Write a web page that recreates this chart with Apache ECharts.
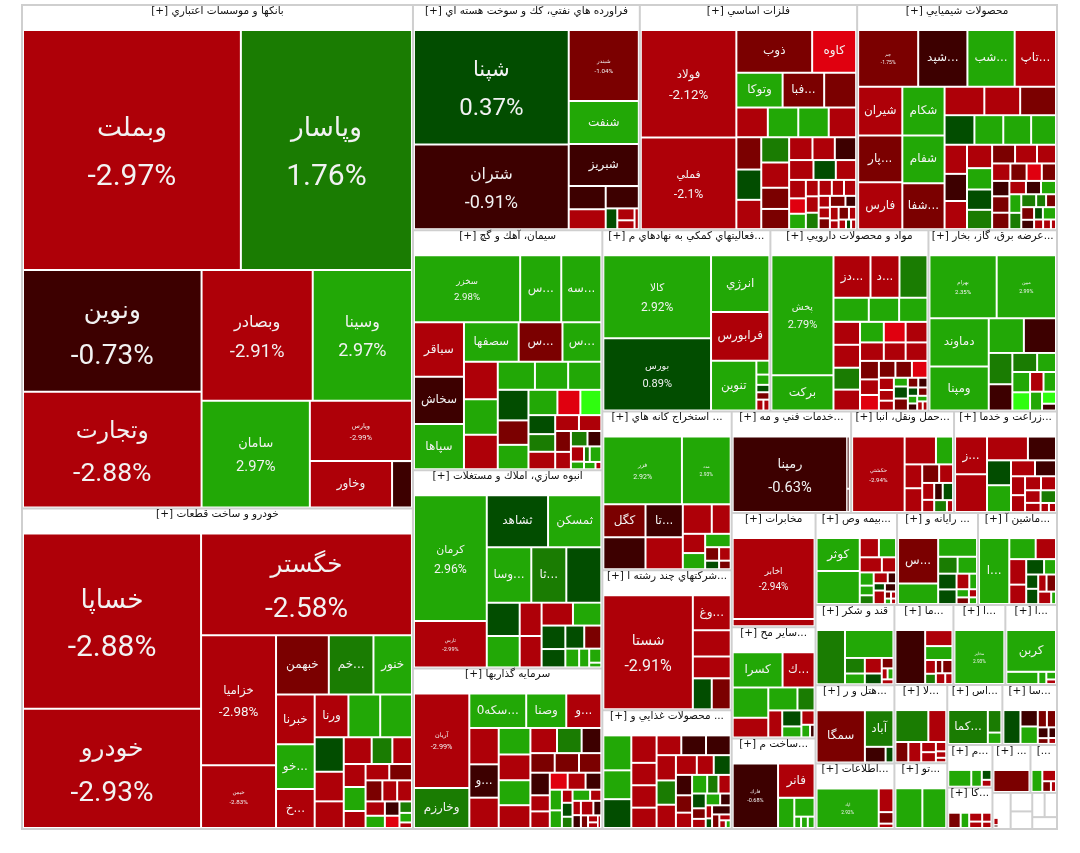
<![CDATA[<!DOCTYPE html>
<html><head><meta charset="utf-8">
<style>html,body{margin:0;padding:0;background:#fff}#c{width:1080px;height:853px}</style>
<script src="https://cdn.jsdelivr.net/npm/echarts@6/dist/echarts.min.js"></script></head>
<body><div id="c"></div>
<script>
// each cell: [symbol, change %, market value]; listed in treemap order
const banks=[["وبملت",-2.97,51863],["وپاسار",1.76,40630],["ونوين",-0.73,21360],["وتجارت",-2.88,20292],["وبصادر",-2.91,14190],["وسينا",2.97,12642],["سامان",2.97,11232],["وپارس",-2.99,5900],["وخاور",-2.6,3600],["",-0.6,810]];
const autos=[["خساپا",-2.88,30972],["خودرو",-2.93,21004],["خگستر",-2.58,21200],["خزاميا",-2.98,9500],["خيمن",-2.83,4500],["خبهمن",-1.6,2950],["خم...",1.5,2478],["خنور",2.6,2124],["خبرنا",-2.5,1776],["خو...",2.4,1591],["خ...",-2.7,1369],["ورنا",-2.6,1312],["",2.6,1230],["",2.5,1230],["",0.4,891],["",-2.4,756],["",-2.8,675],["",-2.5,650],["",1.5,468],["",-2.6,442],["",-2.3,420],["",2.7,440],["",-2.4,300],["",-2.9,315],["",-1.4,300],["",-1.6,285],["",-2.6,247],["",-2.7,247],["",-2.5,216],["",2.6,180],["",-0.5,156],["",-3.3,130],["",1.3,100],["",2.4,80],["",-2.2,40]];
const oil=[["شپنا",0.37,17176],["شتران",-0.91,12616],["شبندر",-1.04,4692],["شنفت",2.5,2788],["شبريز",-0.8,2720],["",-0.7,735],["",-2.6,630],["",-0.6,630],["",0.5,180],["",-2.4,150],["",-2.7,105],["",-2.2,54]];
const metals=[["فولاد",-2.12,9858],["فملي",-2.1,8370],["ذوب",-1.5,3000],["كاوه",-3.2,1700],["وتوكا",2.4,1450],["فبا...",-1.7,1295],["",-1.6,980],["",-2.6,812],["",2.6,784],["",2.2,784],["",-2.4,700],["",-1.4,690],["",0.5,644],["",-2.5,621],["",1.5,598],["",-2.7,598],["",-1.8,494],["",-1.5,468],["",-2.2,441],["",-2.6,420],["",-0.6,399],["",-2.4,396],["",0.4,360],["",-2.7,324],["",-2.5,240],["",-3.4,195],["",2.5,195],["",-2.3,154],["",-2.8,154],["",1.4,154],["",-2.6,154],["",-2.4,140],["",-2.2,140],["",-2.7,88],["",-2.5,80],["",-1.8,80],["",-1.5,121],["",-0.6,77],["",-2.6,77],["",-2.5,44],["",-1.7,88],["",-2.3,56],["",-2.1,40],["",0.5,24],["",-2.4,24]];
const chemicals=[["جم",-1.75,3245],["شپد...",-0.6,2640],["شب...",2.5,2530],["تاپ...",-2.6,2200],["شيران",-2.5,2021],["پار...",-1.6,1935],["فارس",-2.7,1935],["شكام",2.6,1927],["شفام",2.4,1886],["شفا...",-1.4,1804],["",-2.6,1026],["",-2.4,918],["",-1.7,918],["",0.5,784],["",2.6,756],["",2.4,728],["",2.5,644],["",-2.6,567],["",-0.7,525],["",-2.5,546],["",-2.7,504],["",2.7,456],["",0.4,432],["",1.5,408],["",-1.8,357],["",-2.3,340],["",-2.6,289],["",-2.8,256],["",-1.5,224],["",-3.3,208],["",-1.7,192],["",-0.6,208],["",-1.6,224],["",-1.9,224],["",-2.6,168],["",-0.8,150],["",2.8,150],["",2.3,168],["",1.3,144],["",1.6,143],["",1.4,88],["",-1.9,88],["",-1.5,117],["",-0.5,81],["",0.6,72],["",2.4,117],["",-2.2,54],["",-2.7,45],["",-2.9,25]];
const cement=[["سخزر",2.98,6760],["س...",2.7,2535],["سه...",2.6,2470],["سباقر",-2.7,2496],["سخاش",-0.7,2160],["سپاها",2.5,2064],["سصفها",2.4,1961],["س... ",-1.6,1554],["س...  ",2.8,1369],["",-2.6,1120],["",2.5,1056],["",-2.4,1024],["",2.6,910],["",2.4,806],["",2.7,806],["",0.5,812],["",-1.5,638],["",2.3,638],["",2.5,621],["",-3.3,483],["",3.5,437],["",0.4,416],["",1.6,384],["",-2.8,380],["",-2.6,300],["",-2.3,280],["",-1.7,256],["",-2.5,208],["",1.4,192],["",-0.6,156],["",-2.7,144],["",2.2,63],["",1.3,54],["",2.6,128],["",2.4,50],["",-2.1,20]];
const massBuilders=[["كرمان",2.96,8733],["ثارس",-2.99,3124],["ثشاهد",0.6,2950],["ثمسكن",2.5,2550],["وسا...",2.4,2250],["ثا...",1.4,1750],["",0.5,1750],["",0.4,961],["",2.6,900],["",-2.5,620],["",-2.6,580],["",-2.7,609],["",2.3,546],["",0.7,462],["",0.5,352],["",0.3,352],["",-1.5,315],["",2.7,195],["",2.6,135],["",2.4,120],["",2.5,30]];
const investment=[["آريان",-2.99,5022],["وخارزم",1.6,2052],["سكه0...",2.5,1815],["وصنا",2.6,1254],["و...",-2.4,1089],["",-2.6,952],["و... ",-0.7,868],["",-2.7,784],["",2.4,736],["",-2.5,713],["",2.7,690],["",-2.8,625],["",-2.3,575],["",1.5,529],["",-0.6,414],["",-1.5,396],["",-1.8,396],["",-1.6,361],["",-0.5,361],["",-2.4,247],["",-2.6,256],["",-3.4,240],["",-2.7,240],["",-0.7,208],["",2.3,192],["",2.6,160],["",-2.2,96],["",0.4,104],["",1.3,80],["",2.5,144],["",-2.6,84],["",-2.3,80],["",-0.8,70],["",-2.9,132],["",-0.6,77],["",-1.7,56],["",-2.8,40],["",-2.1,30],["",-2.4,20]];
const finance=[["كالا",2.92,8586],["بورس",0.89,7420],["انرژي",2.5,3080],["فرابورس",-2.6,2632],["تنوين",2.4,2070],["",2.6,130],["",2.3,90],["",0.5,60],["",-1.6,60],["",-2.4,45],["",-2.7,36]];
const pharma=[["پخش",2.79,7020],["بركت",2.5,1980],["دز...",-2.6,1400],["د...",-2.4,1080],["",1.5,1040],["",2.6,726],["",2.4,616],["",2.7,572],["",-2.5,504],["",-2.8,504],["",1.4,480],["",-2.3,456],["",2.5,396],["",-3.3,360],["",-2.6,360],["",-2.7,352],["",-2.4,320],["",-2.9,320],["",-1.6,272],["",-2.5,224],["",-3.2,224],["",-1.5,210],["",-1.7,210],["",-3.4,196],["",-2.6,130],["",-2.8,110],["",-2.2,100],["",2.3,80],["",0.5,117],["",-1.8,117],["",-1.4,63],["",-0.6,54],["",0.4,50],["",-1.5,45],["",2.6,40],["",-0.7,36],["",2.5,30],["",-2.4,25],["",-2.7,20]];
const power=[["بهرام",2.35,4026],["مبين",2.99,3538],["دماوند",2.5,2668],["ومپنا",2.6,2436],["",2.4,1089],["",-0.6,990],["",1.5,638],["",-0.7,528],["",1.4,391],["",2.7,289],["",2.3,288],["",3.4,256],["",-2.6,204],["",2.6,187],["",2.5,170],["",3.3,120],["",-0.5,60]];
const mining=[["فزر",2.92,5159],["مدد",2.93,3149],["كگل",-1.6,1271],["",-0.7,1230],["تا...",-0.6,1116],["",-2.6,1080],["",-2.4,756],["",-2.7,476],["",-2.5,357],["",2.6,294],["",2.4,276],["",-1.5,140],["",0.5,80],["",-2.8,112],["",-1.7,64]];
const multiIndustry=[["شستا",-2.91,9856],["وغ...",-2.6,1188],["",-2.4,864],["",-2.7,720],["",0.5,493],["",-1.6,493]];
const food=[["",2.6,832],["",2.4,676],["",0.5,676],["",-2.6,575],["",-2.4,460],["",-2.7,460],["",-2.5,414],["",-2.8,391],["",-0.6,391],["",-0.7,391],["",-2.3,391],["",1.5,374],["",-2.6,357],["",-2.4,324],["",-2.7,256],["",0.4,256],["",-0.5,252],["",-1.6,210],["",-2.6,182],["",2.5,210],["",1.4,150],["",-2.8,165],["",0.5,143],["",-1.5,96],["",-2.4,80],["",2.7,117],["",-0.7,80],["",-2.3,48],["",0.3,32],["",-0.6,117],["",-1.7,60],["",-2.5,36],["",-2.2,24],["",2.2,16]];
const techServices=[["رمپنا",-0.63,8475],["",-0.8,110],["",-0.5,40]];
const transport=[["حكشتي",-2.94,3848],["",-2.6,783],["",2.5,405],["",-2.4,352],["",-2.7,352],["",-1.6,255],["",-2.5,204],["",-2.8,154],["",-2.3,105],["",-0.7,105],["",0.5,132],["",1.4,110],["",-2.6,44]];
const farming=[["ز...",-2.7,1080],["",-2.5,1080],["",-2.6,858],["",-0.6,572],["",0.4,506],["",2.5,550],["",-2.4,308],["",-0.7,266],["",-2.8,204],["",-2.6,180],["",-2.3,168],["",-2.5,156],["",-2.7,144],["",-2.4,99],["",1.5,144],["",-2.9,45],["",-2.2,36]];
const telecom=[["اخابر",-2.94,6160],["",-2.6,480]];
const otherMining=[["كسرا",2.5,1584],["ك...",-2.6,990],["",2.4,945],["",-2.7,595],["",2.6,567],["",1.5,315],["",-2.5,299],["",0.5,238],["",2.3,154],["",-2.4,136],["",2.7,70],["",-0.6,30]];
const construction=[["فارك",-0.68,2728],["فانر",-2.6,1122],["",2.5,405],["",2.4,306],["",2.6,45],["",2.3,45],["",2.7,45]];
const insurance=[["كوثر",2.6,1260],["",2.4,1260],["",-2.6,289],["",2.5,255],["",-2.4,260],["",-2.7,156],["",2.3,130],["",2.7,90],["",1.4,80],["",-2.5,104],["",-0.7,54],["",0.5,48],["",-2.8,104],["",-0.6,56],["",-1.6,20],["",-2.2,15],["",2.6,14],["",-2.4,10]];
const computers=[["س...",-1.5,1638],["",2.4,702],["",2.6,612],["",1.5,255],["",2.5,255],["",0.5,221],["",0.4,204],["",-2.6,143],["",2.3,78],["",2.7,63],["",-1.7,49],["",-2.4,36],["",2.2,28]];
const machinery=[["ا...",2.5,1798],["",2.4,456],["",-2.4,342],["",-2.6,345],["",-2.7,255],["",0.5,208],["",2.6,130],["",0.6,120],["",0.4,130],["",-2.3,96],["",-1.6,112],["",-2.5,112],["",2.2,32]];
const sugar=[["",1.5,1377],["",2.6,1196],["",1.4,240],["",2.4,156],["",-2.6,200],["",0.5,130],["",-1.6,80],["",-2.5,35],["",2.3,35],["",-2.4,30]];
const hotels=[["سمگا",-1.6,2115],["آباد",1.5,832],["",-0.6,228],["",0.5,72]];
const ict=[["اياد",2.92,2440],["",-2.6,299],["",-1.6,130],["",-2.4,39]];
const crafts=[["",-0.6,1428],["",-2.6,350],["",2.5,300],["",-2.4,100],["",1.4,70],["",-1.5,50],["",-1.6,90],["",-2.7,63],["",-2.5,45]];
const tile=[["مخابر",2.93,2448]];
const carbon=[["كربن",2.6,1872],["",2.4,310],["",2.5,60],["",2.7,42],["",-2.6,21]];
const textiles=[["",1.5,870],["",-2.6,450],["",-1.6,187],["",-2.4,187],["",-2.7,96],["",-2.5,96],["",-2.3,56],["",-2.8,35],["",-2.2,21]];
const distribution=[["",2.6,1000],["",2.4,880]];
const glass=[["كما...",1.6,1209],["",1.4,240],["",2.5,108]];
const rubber=[["",0.5,465],["",-0.6,210],["",2.6,225],["",-1.5,105],["",-1.7,105],["",-0.7,72],["",-1.6,32],["",-0.5,45],["",-2.4,20]];
const metalProducts=[["",2.5,330],["",2.6,135],["",0.5,64],["",-2.6,40]];
const leasing=[["",-1.6,132],["",2.4,84],["",-2.7,72],["",-2.5,48],["",-2.6,48],["",-2.4,30]];
const wood=[["",-1.5,640]];
const paper=[["",2.5,200],["",-2.6,121],["",-1.6,64],["",-2.4,32]];
const tail=[["",-2.6,70],["",-0.6,21],["",null,260]];

// sector titles and sector totals
const sectorTitles=["[+] بانكها و موسسات اعتباري","[+] خودرو و ساخت قطعات","[+] فراورده هاي نفتي، كك و سوخت هسته اي","[+] فلزات اساسي","[+] محصولات شيميايي","[+] سيمان، آهك و گچ","[+] انبوه سازي، املاك و مستغلات","[+] سرمايه گذاريها","[+] فعاليتهاي كمكي به نهادهاي م...","[+] مواد و محصولات دارويي","[+] عرضه برق، گاز، بخار...","[+] استخراج كانه هاي ...","[+] شركتهاي چند رشته ا...","[+] محصولات غذايي و ...","[+] خدمات فني و مه...","[+] حمل ونقل، انبا...","[+] زراعت و خدما...","[+] مخابرات","[+] ساير مح...","[+] ساخت م...","[+] بيمه وص...","[+] رايانه و ...","[+] ماشين آ...","[+] قند و شكر","[+] هتل و ر...","[+] اطلاعات...","[+] ما...","[+] ا...","[+] ا...","[+] لا...","[+] تو...","[+] اس...","[+] سا...","[+] م...","[+] كا...","[+] ...","[..."];
const sectorCells=[banks,autos,oil,metals,chemicals,cement,massBuilders,investment,finance,pharma,power,mining,multiIndustry,food,techServices,transport,farming,telecom,otherMining,construction,insurance,computers,machinery,sugar,hotels,ict,crafts,tile,carbon,textiles,distribution,glass,rubber,metalProducts,leasing,wood,paper];
const sectorTotals=[196868,125316,51076,48929,45000,45480,37521,30415,30492,28677,23323,20526,18130,15346,12129,10454,10454,9576,9324,7602,7498,7452,7268,6320,6162,5175,4720,4150,4130,4134,3471,3300,3270,1935,1867,1824,1272];
const blankTotals=[657,400,380,300,300,294];

// label sizes per symbol (percent size); symbols not listed show the name alone
const labelSizes={"وبملت":30,"وپاسار":30,"ونوين":28,"وتجارت":26.5,"خساپا":30,"خودرو":28,"خگستر":28,"شپنا":24,"وبصادر":18.5,"وسينا":18,"شتران":18,"شستا":16,"سامان":14.7,"رمپنا":14.7,"فولاد":13.3,"خزاميا":13.4,"فملي":12.3,"كالا":12,"كرمان":12.3,"بورس":11,"پخش":11,"اخابر":10,"سخزر":9.7,"وپارس":7.5,"آريان":7.3,"فزر":7,"خيمن":6.2,"شبندر":6.2,"حكشتي":6.2,"بهرام":6,"ثارس":5.5,"فارك":5.5,"مبين":5.3,"جم":5,"مدد":5,"مخابر":4.8,"اياد":4.8};
const nameOnlySize=12;
const bins=[[3,"#2ffd0f"],[2,"#22a806"],[1,"#1a7c02"],[0,"#024d00"],[-1,"#3d0000"],[-2,"#7b0000"],[-3,"#ae0008"]];
function colorOf(p){if(p===null)return "#fff";for(const b of bins){if(p>=b[0])return b[1];}return "#e0000f";}
// values above were read as visible tile areas; the white gap around each tile belongs to it
function withGap(v){return v+4.2*Math.sqrt(v)+4;}
function leaf(c,tileH){
  const size=labelSizes[c[0]];
  const lh=size*1.6;
  const lab=size?{formatter:"{n|"+c[0]+"}\n{p|"+c[1]+"%}",padding:[Math.max(0,((tileH[c[0]]||0)-2*lh)/2+size*0.12),0,0,0],
      rich:{n:{fontSize:size*0.88,lineHeight:lh,color:"#f2f2f2",fontFamily:'"DejaVu Sans"'},p:{fontSize:size,lineHeight:lh,color:"#f2f2f2",fontFamily:'Roboto'}}}
    :{formatter:c[0].trim(),fontSize:nameOnlySize};
  return {name:c[0]||" ",value:withGap(c[2]),itemStyle:{color:colorOf(c[1])},
    label:Object.assign({show:c[0]!=="",overflow:"none"},lab)};
}
function buildData(tileH){
  const data=sectorTitles.map((t,i)=>({name:t,value:sectorTotals[i],children:sectorCells[i].map(c=>leaf(c,tileH))}));
  blankTotals.forEach((v,i)=>data.push({name:" ",value:v,children:(i===0?tail:[["",null,1]]).map(c=>leaf(c,tileH))}));
  return data;
}
const chart=echarts.init(document.getElementById('c'),null,{renderer:'canvas'});
function draw(tileH){chart.setOption({animation:false,series:[{type:'treemap',left:21,top:4,width:1037,height:826,roam:false,nodeClick:false,
  breadcrumb:{show:false},sort:false,squareRatio:1,visibleMin:0,
  label:{show:true,position:'inside',color:'#f2f2f2',fontFamily:'"DejaVu Sans", sans-serif'},
  levels:[
    {itemStyle:{borderColor:'#cfcfcf',borderWidth:2,gapWidth:2},upperLabel:{show:false}},
    {itemStyle:{borderColor:'#fff',borderWidth:1,gapWidth:2},
     upperLabel:{show:true,height:25,color:'#111',fontSize:10.5,fontFamily:'"DejaVu Sans", sans-serif',position:'inside',verticalAlign:'bottom',padding:[0,0,2,0]}},
    {itemStyle:{borderWidth:0,gapWidth:0},upperLabel:{show:false}}
  ],
  data:buildData(tileH)}]});}
draw({});
// second pass: centre the two-line labels using the tile heights the layout produced
const tileH={};
chart.getModel().getSeriesByIndex(0).getData().tree.root.eachNode(n=>{
  const l=n.getLayout();
  if(l&&labelSizes[n.name])tileH[n.name]=l.height;
});
draw(tileH);
</script></body></html>]]>
